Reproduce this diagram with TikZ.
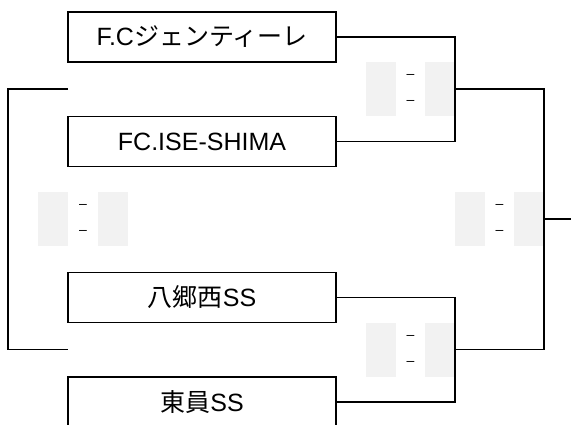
\documentclass[tikz,border=0pt]{standalone}
\usepackage{fontspec}
\setmainfont{Liberation Sans}
\newfontfamily\cjk{Noto Sans CJK JP}
\usetikzlibrary{positioning}
\definecolor{scoregray}{HTML}{F2F2F2}

\begin{document}
\begin{tikzpicture}[x=1pt, y=-1pt, node distance=104.5pt and 60pt, on grid, semithick]
      \tikzstyle{team}=[draw=black, line width=1.5pt, fill=white, minimum width=268pt, minimum height=50pt, inner sep=0pt, font=\fontsize{25}{25}\selectfont]
      \tikzstyle{score}=[fill=scoregray, minimum width=30pt, minimum height=54pt, inner sep=0pt]
      \tikzstyle{scoredash}=[inner sep=0pt, font=\fontsize{14}{14}\selectfont]
      \tikzstyle{link}=[line width=1.3pt]
      \useasboundingbox (0,0) rectangle (571,425);
      % teams
      \node[team] (T1) at (202,37) {F.C{\cjk ジェンティーレ}};
      \node[team] (T2) [below = of T1] {FC.ISE-SHIMA};
      \node[team] (T3) [below = 156pt of T2] {{\cjk 八郷西}SS};
      \node[team] (T4) [below = of T3] {{\cjk 東員}SS};
      % score boxes
      \node[score] (S1a) at (381,89) {};
      \node[score] (S1b) [right = 59pt of S1a] {};
      \node[score] (S2a) at (381,350) {};
      \node[score] (S2b) [right = 59pt of S2a] {};
      \node[score] (S3a) at (53,219) {};
      \node[score] (S3b) [right = of S3a] {};
      \node[score] (S4a) at (470,219) {};
      \node[score] (S4b) [right = 59pt of S4a] {};
      \foreach \s in {1,2,3,4} {
        \path (S\s a) -- (S\s b) coordinate[pos=0.5] (D\s);
        \node[scoredash] at ([yshift=-13pt]D\s) {–};
        \node[scoredash] at ([yshift=13pt]D\s) {–};
      }
      % bracket lines
      \coordinate (M1) at (455,89);
      \coordinate (M2) at (455,349.5);
      \coordinate (F) at (544,219);
      \coordinate (W) at (571,219);
      \coordinate (L1) at (68,89);
      \coordinate (L2) at (68,349.5);
      \coordinate (L0) at (8,219);
      \draw[link] (T1.east) -| (M1) |- (T2.east);
      \draw[link] (T3.east) -| (M2) |- (T4.east);
      \draw[link] (M1) -| (F) |- (M2);
      \draw[link] (F) -- (W);
      \draw[link] (L1) -| (L0) |- (L2);
    \end{tikzpicture}
\end{document}
